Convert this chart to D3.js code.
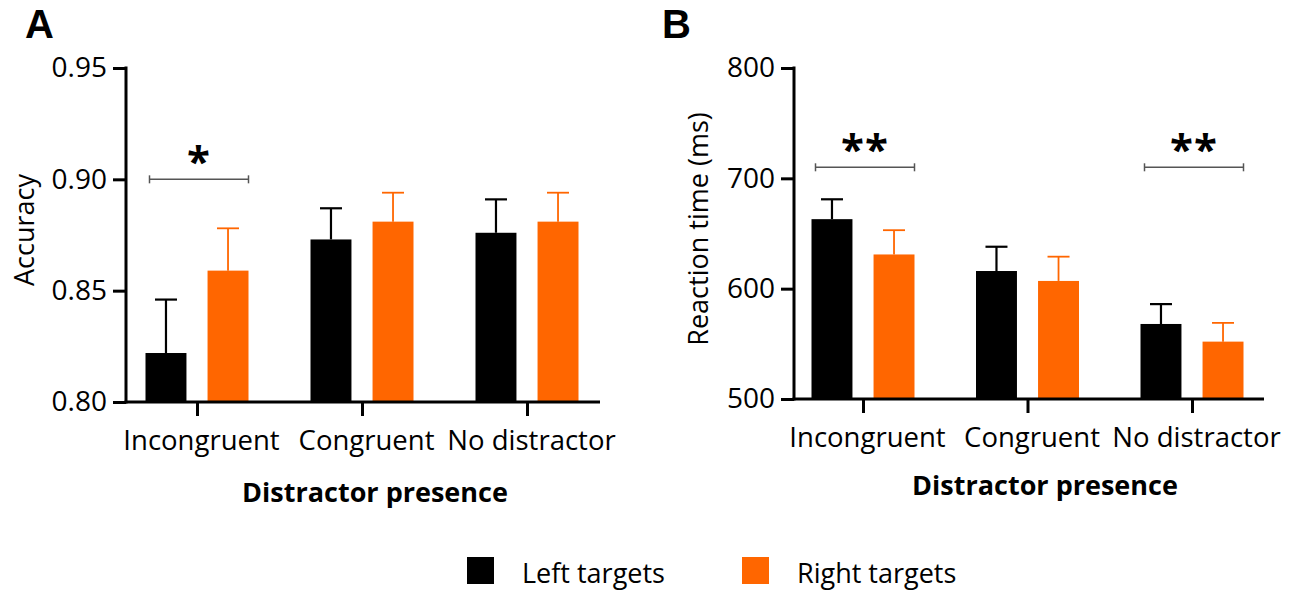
<!DOCTYPE html>
<html>
<head>
<meta charset="utf-8">
<script src="https://cdn.jsdelivr.net/npm/d3@7"></script>
<style>
  html, body { margin: 0; padding: 0; background: #fff; }
  svg { display: block; }
  text { font-family: "Open Sans", "DejaVu Sans", sans-serif; fill: #000; }
</style>
</head>
<body>
<svg id="chart" width="1316" height="591"></svg>
<script>
// Conditions on the x axis and the two target sides
const categories = ["Incongruent", "Congruent", "No distractor"];
const seriesNames = ["Left targets", "Right targets"];
const seriesColors = ["#000000", "#FF6600"];

// Panel A: accuracy (mean and upper error)
const accuracyLeft = [0.822, 0.873, 0.876];
const accuracyLeftErr = [0.024, 0.014, 0.015];
const accuracyRight = [0.859, 0.881, 0.881];
const accuracyRightErr = [0.019, 0.013, 0.013];
const accuracyTicks = [0.80, 0.85, 0.90, 0.95];
const accuracyTickLabels = ["0.80", "0.85", "0.90", "0.95"];
const accuracySig = [{ category: "Incongruent", level: 0.90, label: "*" }];

// Panel B: reaction time in ms (mean and upper error)
const rtLeft = [663, 616, 568];
const rtLeftErr = [18, 22, 18];
const rtRight = [631, 607, 552];
const rtRightErr = [22, 22, 17];
const rtTicks = [500, 600, 700, 800];
const rtTickLabels = ["500", "600", "700", "800"];
const rtSig = [
  { category: "Incongruent", level: 710, label: "**" },
  { category: "No distractor", level: 710, label: "**" }
];

const svg = d3.select("#chart");

function drawPanel(opt) {
  const g = svg.append("g");
  const y = d3.scaleLinear().domain(opt.domain).range([opt.bottom, opt.top]);
  const x = d3.scalePoint().domain(categories).range([opt.firstCenter, opt.lastCenter]);
  const sub = d3.scaleBand().domain(seriesNames).range([-51.5, 51.5]).paddingInner(0.34);

  const values = [opt.left, opt.right];
  const errs = [opt.leftErr, opt.rightErr];
  const rows = [];
  categories.forEach((c, i) => {
    seriesNames.forEach((s, j) => {
      rows.push({ c, s, j, v: values[j][i], e: errs[j][i] });
    });
  });

  // error bars (upper only), drawn behind the bars
  const eb = g.append("g");
  rows.forEach(d => {
    const cx = x(d.c) + sub(d.s) + sub.bandwidth() / 2;
    const col = seriesColors[d.j];
    const sw = d.j === 0 ? 2.2 : 1.8;
    eb.append("line").attr("x1", cx).attr("x2", cx)
      .attr("y1", y(d.v)).attr("y2", y(d.v + d.e))
      .attr("stroke", col).attr("stroke-width", sw);
    eb.append("line").attr("x1", cx - 11).attr("x2", cx + 11)
      .attr("y1", y(d.v + d.e)).attr("y2", y(d.v + d.e))
      .attr("stroke", col).attr("stroke-width", sw);
  });

  // bars
  g.append("g").selectAll("rect").data(rows).join("rect")
    .attr("x", d => x(d.c) + sub(d.s))
    .attr("width", sub.bandwidth())
    .attr("y", d => y(d.v))
    .attr("height", d => y(opt.domain[0]) - y(d.v))
    .attr("fill", d => seriesColors[d.j]);

  // y axis
  const yAxis = d3.axisLeft(y).tickValues(opt.ticks)
    .tickFormat((d, i) => opt.tickLabels[i]).tickSize(13).tickPadding(6).tickSizeOuter(0);
  const ya = g.append("g").attr("transform", `translate(${opt.axisX},0)`).call(yAxis);
  ya.select(".domain").remove();
  ya.selectAll(".tick line").attr("stroke", "#000").attr("stroke-width", 3);
  ya.selectAll(".tick text").style("font-size", "28px").style("font-family", "'Open Sans', sans-serif");
  g.append("line").attr("x1", opt.axisX).attr("x2", opt.axisX)
    .attr("y1", y(opt.domain[1]) - 1.5).attr("y2", opt.bottom + 1.5)
    .attr("stroke", "#000").attr("stroke-width", 3);

  // x axis
  const xAxis = d3.axisBottom(x).tickSize(14).tickSizeOuter(0);
  const xa = g.append("g").attr("transform", `translate(0,${opt.bottom})`).call(xAxis);
  xa.select(".domain").remove();
  xa.selectAll(".tick line").attr("stroke", "#000").attr("stroke-width", 3);
  xa.selectAll(".tick text").attr("y", 48).attr("dy", 0).attr("dx", 4)
    .style("font-size", "27.5px").style("font-family", "'Open Sans', sans-serif");
  g.append("line").attr("x1", opt.axisX - 1.5).attr("x2", opt.axisEnd)
    .attr("y1", opt.bottom).attr("y2", opt.bottom)
    .attr("stroke", "#000").attr("stroke-width", 3);

  // significance brackets
  opt.sig.forEach(s => {
    const x1 = x(s.category) + sub(seriesNames[0]) + 4;
    const x2 = x(s.category) + sub(seriesNames[1]) + sub.bandwidth();
    const yy = y(s.level);
    const b = g.append("g").attr("stroke", "#555").attr("stroke-width", 1.5);
    b.append("line").attr("x1", x1).attr("x2", x2).attr("y1", yy).attr("y2", yy);
    b.append("line").attr("x1", x1).attr("x2", x1).attr("y1", yy - 4).attr("y2", yy + 4);
    b.append("line").attr("x1", x2).attr("x2", x2).attr("y1", yy - 4).attr("y2", yy + 4);
    g.append("text").attr("x", (x1 + x2) / 2).attr("y", yy - 3)
      .attr("text-anchor", "middle").style("font-weight", "bold").style("font-size", "42px")
      .style("letter-spacing", "1px")
      .text(s.label);
  });

  // axis titles
  g.append("text")
    .attr("transform", `translate(${opt.yTitleX},${opt.yTitleY}) rotate(-90)`)
    .attr("text-anchor", "middle").style("font-size", "27px")
    .text(opt.yTitle);
  g.append("text").attr("x", opt.xTitleX).attr("y", opt.xTitleY)
    .attr("text-anchor", "middle").style("font-size", "27px").style("font-weight", "bold")
    .text("Distractor presence");

  // panel letter
  g.append("text").attr("x", opt.letterX).attr("y", 38)
    .style("font-family", "'Liberation Sans', Arial, sans-serif")
    .style("font-size", "40px").style("font-weight", "bold")
    .text(opt.letter);
}

drawPanel({
  letter: "A", letterX: 25,
  domain: [0.80, 0.95], top: 68, bottom: 402,
  axisX: 126, axisEnd: 600, firstCenter: 197, lastCenter: 527,
  left: accuracyLeft, leftErr: accuracyLeftErr,
  right: accuracyRight, rightErr: accuracyRightErr,
  ticks: accuracyTicks, tickLabels: accuracyTickLabels, sig: accuracySig,
  yTitle: "Accuracy", yTitleX: 34, yTitleY: 230,
  xTitleX: 375, xTitleY: 502
});

drawPanel({
  letter: "B", letterX: 662,
  domain: [500, 800], top: 68, bottom: 399,
  axisX: 794, axisEnd: 1264, firstCenter: 863, lastCenter: 1192,
  left: rtLeft, leftErr: rtLeftErr,
  right: rtRight, rightErr: rtRightErr,
  ticks: rtTicks, tickLabels: rtTickLabels, sig: rtSig,
  yTitle: "Reaction time (ms)", yTitleX: 708, yTitleY: 229,
  xTitleX: 1045, xTitleY: 495
});

// legend
const legend = svg.append("g").attr("transform", "translate(467,557)");
seriesNames.forEach((s, i) => {
  const lg = legend.append("g").attr("transform", `translate(${i * 275},0)`);
  lg.append("rect").attr("width", 27).attr("height", 27).attr("fill", seriesColors[i]);
  lg.append("text").attr("x", 55).attr("y", 26).style("font-size", "27px").text(s);
});
</script>
</body>
</html>
